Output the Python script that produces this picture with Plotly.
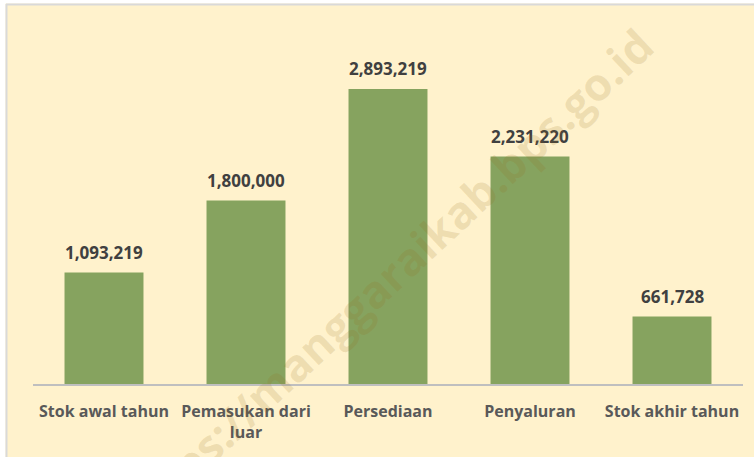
import plotly.graph_objects as go

categories = ["Stok awal tahun", "Pemasukan dari<br>luar", "Persediaan", "Penyaluran", "Stok akhir tahun"]
values = [1093219, 1800000, 2893219, 2231220, 661728]

W, H = 754, 457
L, R, T, B = 33, 11, 41, 73
PW, PH = W - L - R, H - T - B

def px_x(px):
    return (px - L) / PW

def px_y(py):
    return (H - B - py) / PH

CREAM = "#FFF2CC"
GREEN = "#86A35F"

fig = go.Figure()
fig.add_trace(go.Bar(
    x=categories, y=values, marker=dict(color=GREEN, line=dict(width=0)),
    width=0.556, hoverinfo="skip"))

for c, v in zip(categories, values):
    fig.add_annotation(x=c, y=v, text=f"{v:,}", showarrow=False, yanchor="bottom", yshift=7,
                       font=dict(family="Open Sans", size=17, color="#404040", weight="bold"))

# watermark
fig.add_annotation(xref="paper", yref="paper", x=px_x(386), y=px_y(278),
                   xanchor="center", yanchor="middle",
                   text="https://manggaraikab.bps.go.id", showarrow=False, textangle=-43,
                   font=dict(family="Open Sans", size=45, color="rgba(150,110,30,0.16)", weight="bold"))

shapes = [
    dict(type="rect", xref="paper", yref="paper", x0=px_x(-5), x1=px_x(5.5), y0=px_y(470), y1=px_y(-5),
         fillcolor="white", line=dict(width=0), layer="below"),
    dict(type="rect", xref="paper", yref="paper", x0=px_x(-5), x1=px_x(760), y0=px_y(3.5), y1=px_y(-5),
         fillcolor="white", line=dict(width=0), layer="below"),
    dict(type="line", xref="paper", yref="paper", x0=px_x(6.5), x1=px_x(6.5), y0=px_y(470), y1=px_y(4),
         line=dict(color="#D9D9D9", width=2)),
    dict(type="line", xref="paper", yref="paper", x0=px_x(6), x1=px_x(760), y0=px_y(4.5), y1=px_y(4.5),
         line=dict(color="#D9D9D9", width=2)),
]

fig.update_layout(
    width=W, height=H, margin=dict(l=L, r=R, t=T, b=B),
    paper_bgcolor=CREAM, plot_bgcolor=CREAM, showlegend=False, bargap=0.444,
    shapes=shapes,
    xaxis=dict(showline=True, linecolor="#BFBFBF", linewidth=2, showgrid=False, zeroline=False,
               ticks="", ticklabelstandoff=12,
               tickfont=dict(family="Open Sans", size=16, color="#595959", weight="bold"),
               fixedrange=True),
    yaxis=dict(range=[0, 3365000], visible=False, fixedrange=True),
)

fig.write_html("out.html", config={"displayModeBar": False},
               post_script="document.body.style.margin='0';")
